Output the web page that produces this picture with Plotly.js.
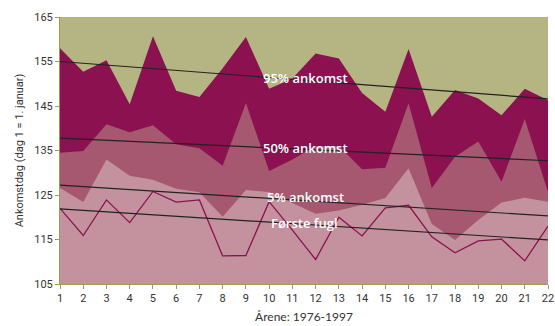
<!DOCTYPE html>
<html>
<head>
<meta charset="utf-8">
<script src="https://cdn.plot.ly/plotly-3.0.1.min.js"></script>
<style>html,body{margin:0;padding:0;background:#fff}#chart{width:555px;height:326px}</style>
</head>
<body>
<div id="chart"></div>
<script>
const years = [1,2,3,4,5,6,7,8,9,10,11,12,13,14,15,16,17,18,19,20,21,22];
const arrival95 = [158.0,152.7,155.3,145.4,160.7,148.4,147.0,153.5,160.5,148.9,151.2,156.8,155.7,147.9,143.7,157.8,142.6,148.6,146.7,142.9,148.9,146.3];
const arrival50 = [134.5,134.9,140.9,139.1,140.7,136.4,135.5,131.6,145.7,130.4,133.0,136.0,136.0,130.8,131.1,145.6,126.6,133.6,137.0,128.0,142.1,125.7];
const arrival5  = [126.6,123.4,133.0,129.3,128.4,126.4,125.6,120.1,126.1,125.7,123.2,120.8,121.5,122.8,124.3,131.0,118.5,114.9,119.4,123.3,124.4,123.5];
const firstBird = [122.0,115.9,123.9,118.8,125.8,123.4,123.9,111.3,111.4,123.5,117.1,110.5,120.0,115.8,122.1,122.7,115.6,112.0,114.7,115.1,110.2,118.0];
const trendX = [1,22];
const trend95 = [155.0,146.6];
const trend50 = [137.8,132.7];
const trend5  = [127.2,120.3];
const trendFirst = [121.9,114.9];
const labels = ["95% ankomst","50% ankomst","5% ankomst","Første fugl"];
const labelX = [11.56,11.56,11.56,11.52];
const labelY = [151.3,135.6,124.6,118.8];

const cDark = "#8b1150", cMid = "#a5586f", cLight = "#c4929e", cBg = "#b4b583";

const traces = [
  {x: years, y: arrival95, type:"scatter", mode:"lines", fill:"tozeroy", fillcolor:cDark, line:{width:0, color:cDark}, hoverinfo:"skip"},
  {x: years, y: arrival50, type:"scatter", mode:"lines", fill:"tozeroy", fillcolor:cMid, line:{width:0, color:cMid}, hoverinfo:"skip"},
  {x: years, y: arrival5, type:"scatter", mode:"lines", fill:"tozeroy", fillcolor:cLight, line:{width:0, color:cLight}, hoverinfo:"skip"},
  {x: years, y: firstBird, type:"scatter", mode:"lines", line:{width:1.3, color:cDark}},
  {x: trendX, y: trend95, type:"scatter", mode:"lines", line:{width:1.2, color:"#222"}},
  {x: trendX, y: trend50, type:"scatter", mode:"lines", line:{width:1.2, color:"#222"}},
  {x: trendX, y: trend5, type:"scatter", mode:"lines", line:{width:1.2, color:"#222"}},
  {x: trendX, y: trendFirst, type:"scatter", mode:"lines", line:{width:1.2, color:"#222"}}
];

const annotations = labels.map((t,i)=>({
  x: labelX[i], y: labelY[i], xref:"x", yref:"y", text:t, showarrow:false,
  font:{family:"'Open Sans', sans-serif", size:13, color:"#ffffff", weight:600}
}));

const layout = {
  width:555, height:326,
  margin:{l:60, r:7, t:17, b:42},
  paper_bgcolor:"#ffffff", plot_bgcolor:cBg,
  showlegend:false,
  font:{family:"Roboto, sans-serif", size:11, color:"#333"},
  xaxis:{range:[1,22], tickvals:years, ticktext:years.map(String), showgrid:false, zeroline:false,
    showline:true, linecolor:"#9c9c55", linewidth:1, ticks:"outside", ticklen:4, tickcolor:"#9c9c55",
    tickfont:{family:"Roboto, sans-serif", size:11, color:"#333"},
    title:{text:"Årene: 1976-1997", font:{family:"Lato, sans-serif", size:12, color:"#333"}, standoff:8}},
  yaxis:{range:[105,165], tickvals:[105,115,125,135,145,155,165], showgrid:false, zeroline:false,
    showline:true, linecolor:"#9c9c55", linewidth:1, ticks:"outside", ticklen:4, tickcolor:"#9c9c55",
    tickfont:{family:"Roboto, sans-serif", size:11, color:"#333"},
    title:{text:"Ankomstdag (dag 1 = 1. januar)", font:{family:"Roboto, sans-serif", size:11, color:"#333"}, standoff:8}},
  annotations: annotations
};

Plotly.newPlot("chart", traces, layout, {staticPlot:true, displayModeBar:false});
</script>
</body>
</html>
